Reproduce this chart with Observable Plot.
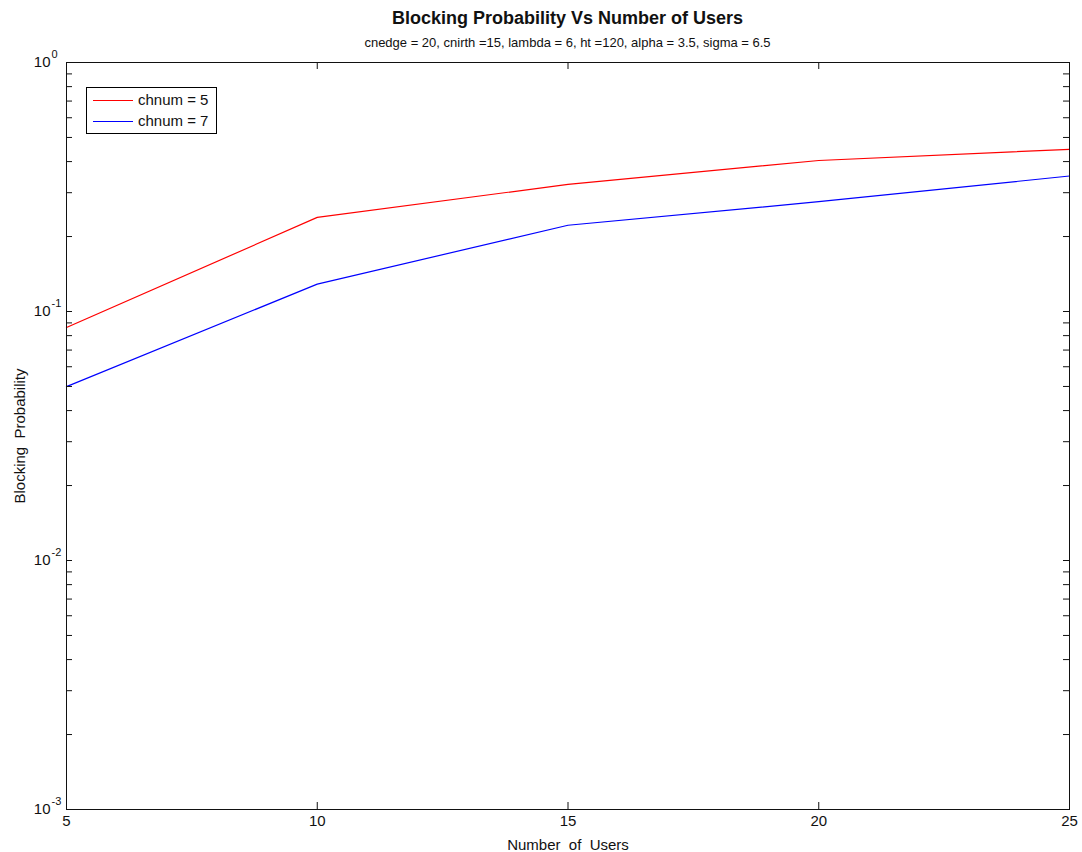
<!DOCTYPE html>
<html>
<head>
<meta charset="utf-8">
<script src="https://cdn.jsdelivr.net/npm/d3@7"></script>
<script src="https://cdn.jsdelivr.net/npm/@observablehq/plot@0.6"></script>
<style>
  html, body { margin: 0; padding: 0; background: #fff; }
  #wrap { position: relative; width: 1082px; height: 852px; font-family: "Liberation Sans", Arial, sans-serif; color: #111; }
  #title { position: absolute; left: 66px; width: 1003px; top: 7px; text-align: center; font-weight: bold; font-size: 18px; line-height: 22px; }
  #subtitle { position: absolute; left: 66px; width: 1003px; top: 35px; text-align: center; font-size: 13px; line-height: 16px; }
  #legend { position: absolute; left: 86px; top: 87px; width: 129px; height: 45px; border: 1px solid #000; background: #fff; font-size: 15px; }
  .row { position: absolute; left: 6px; height: 20px; line-height: 20px; }
  .sw { display: inline-block; width: 40px; height: 0; border-top: 1px solid; vertical-align: middle; margin-right: 5px; position: relative; top: -1px; }
</style>
</head>
<body>
<div id="wrap">
  <div id="chart"></div>
  <div id="title"></div>
  <div id="subtitle"></div>
  <div id="legend"></div>
</div>
<script>
const titleText = "Blocking Probability Vs Number of Users";
const subtitleText = "cnedge = 20, cnirth =15, lambda = 6, ht =120, alpha = 3.5, sigma = 6.5";
const xLabel = "Number  of  Users";
const yLabel = "Blocking  Probability";

const users = [5, 10, 15, 20, 25];
const chnum5 = [0.0862, 0.2387, 0.324, 0.404, 0.448];
const chnum7 = [0.0499, 0.1288, 0.222, 0.276, 0.350];
const seriesNames = ["chnum = 5", "chnum = 7"];
const seriesColors = ["#ff0000", "#0000ff"];

const xTicks = [5, 10, 15, 20, 25];
const decades = [1, 0.1, 0.01, 0.001];
const decadeExps = ["0", "-1", "-2", "-3"];
const minorTicks = [];
for (const d of [0.001, 0.01, 0.1]) for (let k = 2; k <= 9; k++) minorTicks.push(d * k);
const yTicksAll = decades.concat(minorTicks);

const rows = [];
users.forEach((u, i) => {
  rows.push({users: u, bp: chnum5[i], series: seriesNames[0]});
  rows.push({users: u, bp: chnum7[i], series: seriesNames[1]});
});
const decadeRows = decades.map((d, i) => ({v: d, e: decadeExps[i]}));

const W = 1082, H = 852, mL = 66, mR = 13, mT = 62, mB = 43;
const pw = W - mL - mR, ph = H - mT - mB;
const ink = "#111";

const chart = Plot.plot({
  width: W, height: H,
  marginLeft: mL, marginRight: mR, marginTop: mT, marginBottom: mB,
  style: {fontFamily: "'Liberation Sans', Arial, sans-serif", color: ink, background: "#fff"},
  x: {domain: [5, 25]},
  y: {type: "log", domain: [0.001, 1]},
  color: {domain: seriesNames, range: seriesColors},
  marks: [
    Plot.line(rows, {x: "users", y: "bp", z: "series", stroke: "series", strokeWidth: 1.2}),
    // inward ticks
    Plot.ruleX(xTicks, {x: d => d, insetTop: ph - 7, stroke: ink}),
    Plot.ruleX(xTicks, {x: d => d, insetBottom: ph - 7, stroke: ink}),
    Plot.ruleY(yTicksAll, {y: d => d, insetRight: pw - 6, stroke: ink}),
    Plot.ruleY(yTicksAll, {y: d => d, insetLeft: pw - 6, stroke: ink}),
    Plot.frame({stroke: ink}),
    // x tick labels
    Plot.axisX({ticks: xTicks, tickSize: 0, tickPadding: 6, fontSize: 15, tickFormat: d => String(d),
      label: xLabel, labelAnchor: "center", labelArrow: "none", labelOffset: 40}),
    // y tick labels: 10 with superscript exponent
    Plot.text(decadeRows, {y: "v", text: () => "10", frameAnchor: "left", dx: -16, textAnchor: "end", fontSize: 15, fill: ink}),
    Plot.text(decadeRows, {y: "v", text: "e", frameAnchor: "left", dx: -15, dy: -8, textAnchor: "start", fontSize: 11, fill: ink}),
    Plot.axisY({ticks: [], label: yLabel, labelAnchor: "center", labelArrow: "none", labelOffset: 52, fontSize: 15})
  ]
});
document.getElementById("chart").appendChild(chart);

document.getElementById("title").textContent = titleText;
document.getElementById("subtitle").textContent = subtitleText;
const leg = document.getElementById("legend");
seriesNames.forEach((n, i) => {
  const r = document.createElement("div");
  r.className = "row";
  r.style.top = (2 + i * 21) + "px";
  const s = document.createElement("span");
  s.className = "sw";
  s.style.borderTopColor = seriesColors[i];
  r.appendChild(s);
  r.appendChild(document.createTextNode(n));
  leg.appendChild(r);
});
</script>
</body>
</html>
